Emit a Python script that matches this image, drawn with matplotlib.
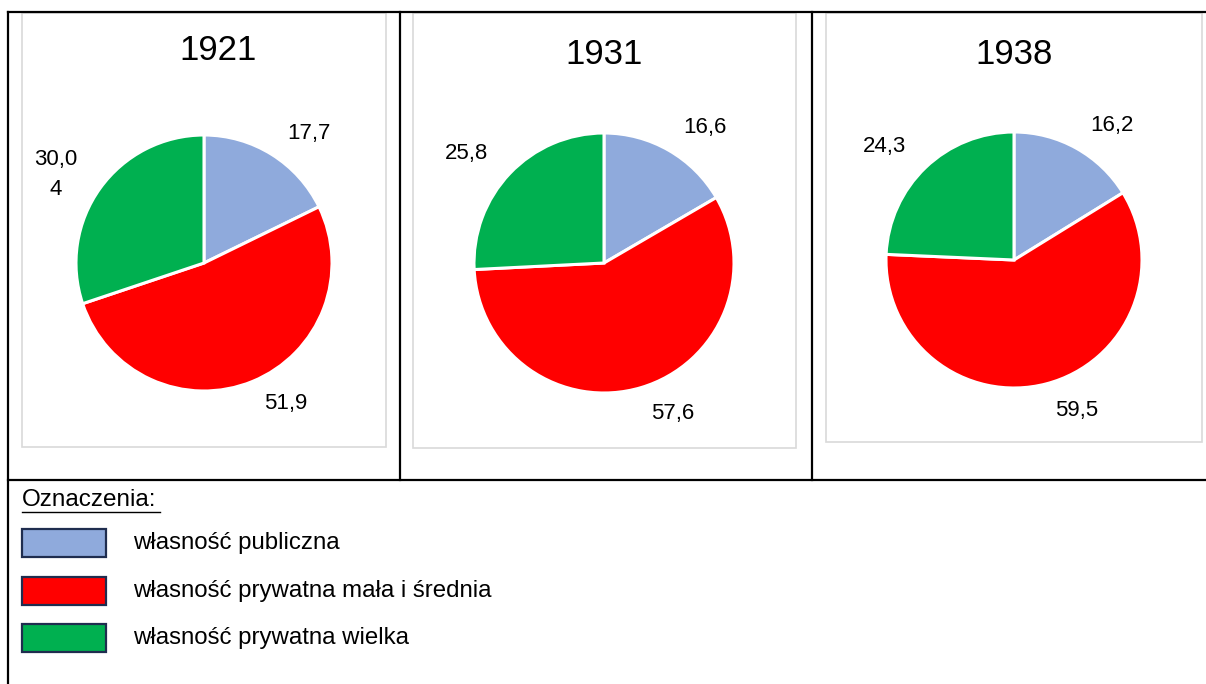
import numpy as np
import matplotlib.pyplot as plt
from matplotlib.patches import Rectangle

plt.rcParams['font.family'] = ['Liberation Sans', 'DejaVu Sans']

# dane
lata = ['1921', '1931', '1938']
publiczna = [17.7, 16.6, 16.2]
prywatna_mala = [51.9, 57.6, 59.5]
prywatna_wielka = [30.04, 25.8, 24.3]
etykiety = [['17,7', '51,9', '30,0\n4'],
            ['16,6', '57,6', '25,8'],
            ['16,2', '59,5', '24,3']]
nazwy = ['własność publiczna', 'własność prywatna mała i średnia', 'własność prywatna wielka']
kolory = ['#8faadc', '#ff0000', '#00b050']

W, H = 1206, 684
fig = plt.figure(figsize=(W / 100, H / 100), dpi=100)

# warstwa tła w pikselach
bg = fig.add_axes([0, 0, 1, 1])
bg.set_xlim(0, W)
bg.set_ylim(H, 0)
bg.axis('off')

# tabela
lw = 1.6
bg.plot([8, W], [12, 12], color='black', lw=lw)
bg.plot([8, 8], [12, H], color='black', lw=lw)
bg.plot([8, W], [480, 480], color='black', lw=lw)
for x in [400, 812]:
    bg.plot([x, x], [12, 480], color='black', lw=lw)

# ramki wykresów
ramki = [(22, 13, 386, 447), (413, 13, 796, 448), (826, 13, 1202, 442)]
for x0, y0, x1, y1 in ramki:
    bg.add_patch(Rectangle((x0, y0), x1 - x0, y1 - y0, fill=False,
                           edgecolor='#d9d9d9', lw=1.2))

# wykresy kołowe
srodki = [(204, 263, 128), (604, 263, 130), (1014, 260, 128)]
tytuly = [(218, 50), (604, 55), (1014, 55)]
przesuniecia = [7, -8, -5]   # korekta kąta etykiet (stopnie)
odleglosci = [1.30, 1.27, 1.35]

for i, rok in enumerate(lata):
    cx, cy, r = srodki[i]
    half = 190
    ax = fig.add_axes([(cx - half) / W, 1 - (cy + half) / H, 2 * half / W, 2 * half / H])
    vals = [publiczna[i], prywatna_mala[i], prywatna_wielka[i]]
    wedges, _ = ax.pie(vals, colors=kolory, startangle=90, counterclock=False,
                       wedgeprops={'edgecolor': 'white', 'linewidth': 2.2})
    lim = half / r
    ax.set_xlim(-lim, lim)
    ax.set_ylim(-lim, lim)
    ax.set_aspect('equal')
    ax.axis('off')
    for j, w in enumerate(wedges):
        kat = np.deg2rad((w.theta1 + w.theta2) / 2 - przesuniecia[j])
        d = odleglosci[j]
        ax.text(d * np.cos(kat), d * np.sin(kat), etykiety[i][j], ha='center', va='center',
                fontsize=16, linespacing=1.55, clip_on=False)
    bg.text(tytuly[i][0], tytuly[i][1], rok, ha='center', va='center', fontsize=25)

# legenda
bg.text(22, 500, 'Oznaczenia:', ha='left', va='center', fontsize=17.5)
bg.plot([22, 160], [512, 512], color='black', lw=1.0)
ys = [543, 591, 638]
for k, nazwa in enumerate(nazwy):
    bg.add_patch(Rectangle((22, ys[k] - 14), 84, 28, facecolor=kolory[k],
                           edgecolor='#1f2d4f', lw=1.6))
    bg.text(133, ys[k], nazwa, ha='left', va='center', fontsize=17.3)

fig.savefig('out.png', dpi=100, facecolor='white')
